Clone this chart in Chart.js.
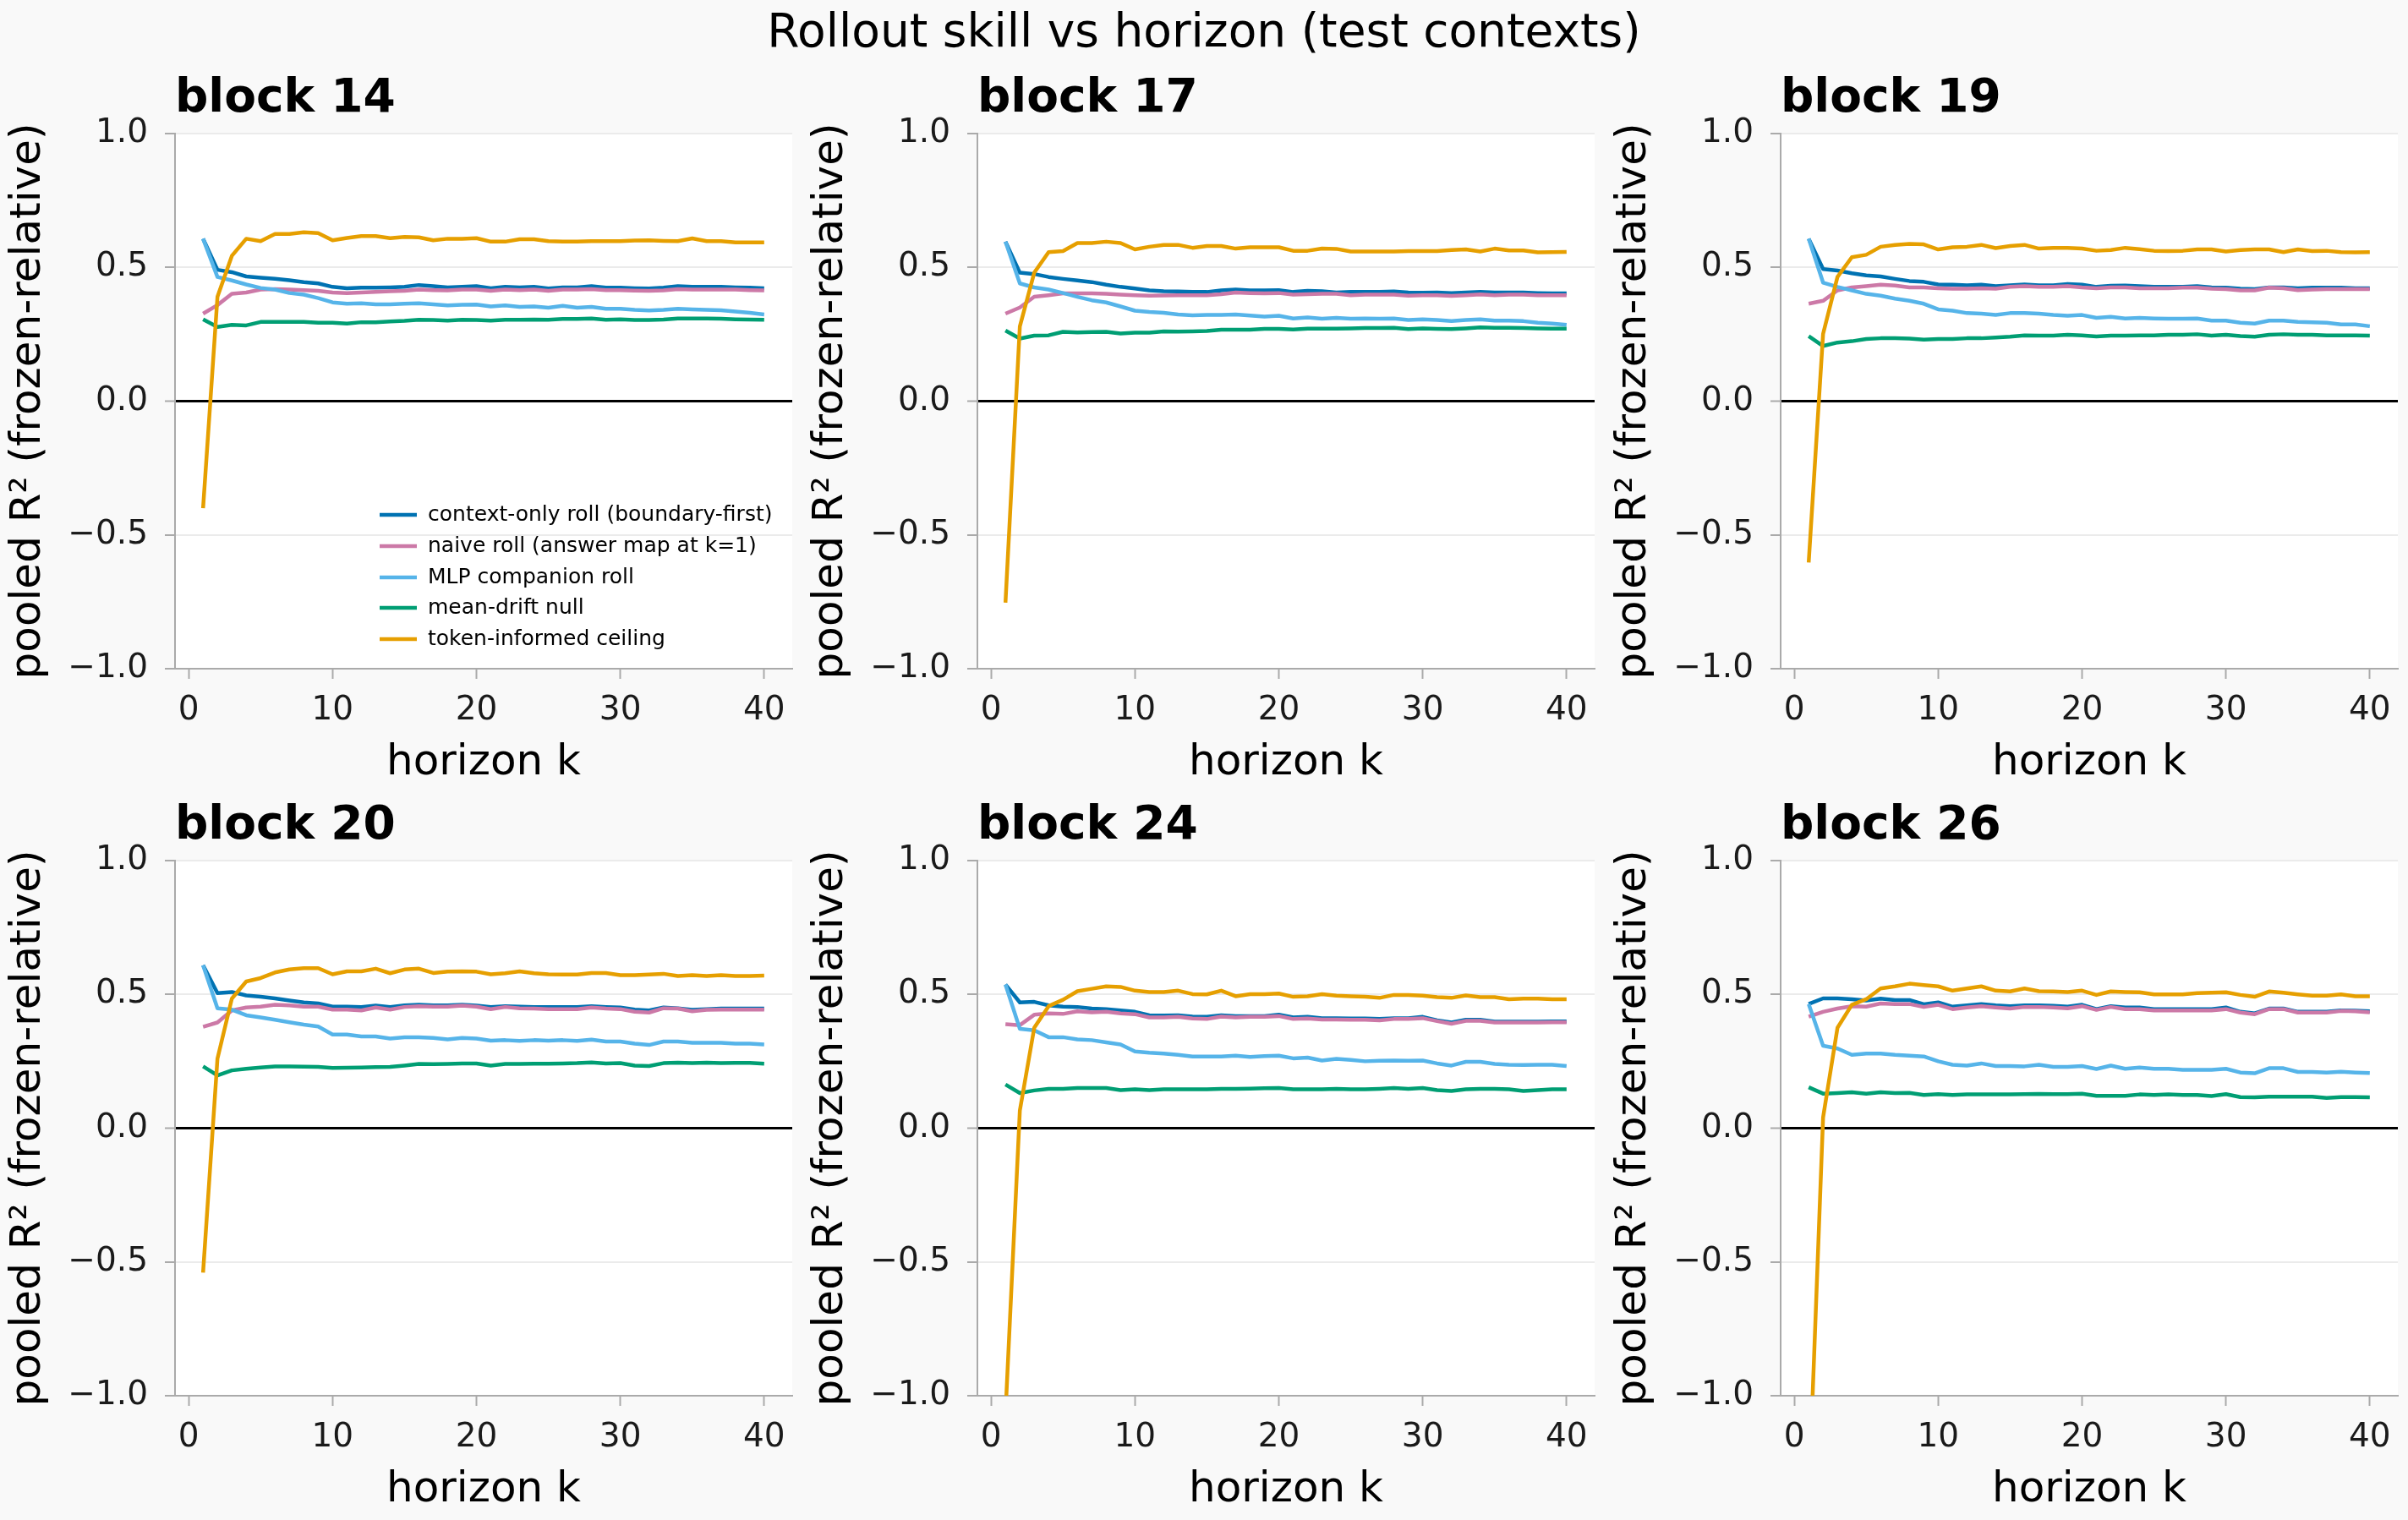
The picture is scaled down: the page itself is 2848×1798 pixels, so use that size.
<!DOCTYPE html>
<html>
<head>
<meta charset="utf-8">
<script src="https://cdn.jsdelivr.net/npm/chart.js@4.4.1/dist/chart.umd.min.js"></script>
<style>
html,body{margin:0;padding:0;background:#f9f9f9;}
#fig{position:relative;width:2848px;height:1798px;overflow:hidden;background:#f9f9f9;}
#sup{position:absolute;left:0;top:8.5px;width:2848px;text-align:center;font-family:'DejaVu Sans',sans-serif;font-size:55px;line-height:55px;color:#000;white-space:nowrap;}
canvas{position:absolute;}
</style>
</head>
<body>
<div id="fig"><div id="sup">Rollout skill vs horizon (test contexts)</div></div>
<script>
// ---------------- data ----------------
const horizonK = [1,2,3,4,5,6,7,8,9,10,11,12,13,14,15,16,17,18,19,20,21,22,23,24,25,26,27,28,29,30,31,32,33,34,35,36,37,38,39,40];
const blockTitles = ['block 14','block 17','block 19','block 20','block 24','block 26'];
const seriesNames = ['context-only roll (boundary-first)','naive roll (answer map at k=1)','MLP companion roll','mean-drift null','token-informed ceiling'];
const seriesColors = ['#0072B2','#CC79A7','#56B4E9','#009E73','#E69F00'];
const xTickValues = [0,10,20,30,40];
const yTickValues = [-1,-0.5,0,0.5,1];

const contextB14 = [0.607,0.491,0.482,0.466,0.461,0.457,0.452,0.445,0.440,0.427,0.422,0.424,0.424,0.425,0.427,0.434,0.430,0.425,0.427,0.430,0.422,0.427,0.425,0.427,0.421,0.425,0.425,0.430,0.424,0.424,0.422,0.421,0.424,0.430,0.427,0.427,0.427,0.425,0.424,0.422];
const naiveB14 = [0.327,0.359,0.401,0.406,0.417,0.419,0.417,0.415,0.412,0.406,0.404,0.406,0.408,0.411,0.412,0.417,0.415,0.414,0.417,0.417,0.412,0.417,0.415,0.417,0.412,0.417,0.417,0.419,0.415,0.415,0.413,0.412,0.414,0.419,0.417,0.417,0.417,0.417,0.415,0.414];
const mlpB14 = [0.607,0.464,0.451,0.436,0.423,0.417,0.404,0.398,0.385,0.369,0.364,0.366,0.362,0.362,0.364,0.366,0.362,0.358,0.360,0.361,0.354,0.358,0.352,0.354,0.349,0.356,0.349,0.352,0.345,0.345,0.341,0.339,0.341,0.345,0.343,0.341,0.340,0.335,0.330,0.324];
const driftB14 = [0.306,0.277,0.285,0.283,0.296,0.296,0.296,0.296,0.293,0.293,0.290,0.295,0.295,0.298,0.300,0.304,0.303,0.301,0.304,0.303,0.301,0.304,0.304,0.305,0.304,0.307,0.307,0.309,0.304,0.306,0.303,0.303,0.305,0.309,0.309,0.309,0.308,0.306,0.305,0.304];
const ceilB14 = [-0.40,0.39,0.543,0.607,0.598,0.625,0.625,0.631,0.628,0.601,0.610,0.617,0.617,0.609,0.614,0.612,0.601,0.607,0.607,0.609,0.596,0.596,0.605,0.605,0.598,0.596,0.596,0.598,0.598,0.598,0.600,0.601,0.599,0.598,0.608,0.598,0.598,0.593,0.593,0.593];

const contextB17 = [0.596,0.480,0.475,0.464,0.457,0.451,0.445,0.435,0.427,0.421,0.414,0.411,0.410,0.408,0.408,0.414,0.417,0.414,0.414,0.415,0.408,0.412,0.411,0.406,0.408,0.408,0.408,0.410,0.406,0.405,0.406,0.404,0.406,0.408,0.406,0.406,0.406,0.404,0.403,0.403];
const naiveB17 = [0.327,0.350,0.390,0.396,0.403,0.403,0.403,0.401,0.398,0.396,0.394,0.395,0.396,0.396,0.396,0.400,0.406,0.404,0.403,0.404,0.398,0.400,0.401,0.401,0.396,0.398,0.398,0.398,0.394,0.396,0.396,0.393,0.396,0.399,0.396,0.398,0.398,0.396,0.396,0.396];
const mlpB17 = [0.596,0.440,0.425,0.417,0.404,0.390,0.377,0.369,0.354,0.338,0.333,0.330,0.324,0.321,0.322,0.322,0.324,0.320,0.316,0.319,0.309,0.313,0.308,0.311,0.308,0.309,0.308,0.309,0.303,0.306,0.303,0.299,0.303,0.306,0.301,0.301,0.299,0.293,0.290,0.285];
const driftB17 = [0.264,0.234,0.245,0.246,0.259,0.257,0.258,0.259,0.253,0.256,0.256,0.261,0.260,0.261,0.262,0.267,0.267,0.267,0.270,0.270,0.268,0.271,0.271,0.271,0.272,0.273,0.273,0.274,0.269,0.272,0.270,0.269,0.272,0.276,0.274,0.274,0.273,0.272,0.271,0.271];
const ceilB17 = [-0.753,0.279,0.480,0.557,0.561,0.591,0.591,0.596,0.591,0.567,0.577,0.584,0.584,0.573,0.580,0.580,0.570,0.575,0.575,0.575,0.562,0.562,0.570,0.569,0.559,0.559,0.559,0.559,0.561,0.561,0.561,0.565,0.567,0.559,0.570,0.563,0.563,0.556,0.557,0.558];

const contextB19 = [0.607,0.494,0.488,0.478,0.470,0.466,0.457,0.449,0.446,0.436,0.435,0.433,0.435,0.430,0.433,0.436,0.433,0.433,0.438,0.435,0.427,0.431,0.432,0.430,0.427,0.427,0.427,0.430,0.425,0.424,0.420,0.419,0.425,0.425,0.422,0.424,0.424,0.424,0.422,0.422];
const naiveB19 = [0.364,0.375,0.414,0.425,0.430,0.435,0.432,0.425,0.425,0.422,0.420,0.420,0.422,0.420,0.427,0.430,0.427,0.427,0.430,0.425,0.422,0.425,0.425,0.422,0.422,0.422,0.424,0.424,0.420,0.419,0.414,0.414,0.424,0.422,0.415,0.417,0.419,0.419,0.419,0.419];
const mlpB19 = [0.607,0.443,0.427,0.414,0.401,0.394,0.383,0.375,0.364,0.343,0.338,0.329,0.327,0.322,0.329,0.329,0.327,0.322,0.319,0.322,0.311,0.315,0.309,0.311,0.309,0.308,0.308,0.309,0.301,0.301,0.293,0.290,0.301,0.301,0.296,0.295,0.293,0.287,0.287,0.280];
const driftB19 = [0.243,0.206,0.219,0.224,0.232,0.235,0.235,0.234,0.230,0.232,0.232,0.235,0.235,0.238,0.241,0.246,0.245,0.245,0.248,0.246,0.242,0.245,0.245,0.246,0.246,0.248,0.248,0.250,0.245,0.248,0.243,0.241,0.248,0.250,0.248,0.248,0.246,0.246,0.246,0.245];
const ceilB19 = [-0.603,0.251,0.464,0.538,0.547,0.577,0.584,0.588,0.586,0.567,0.575,0.577,0.584,0.572,0.580,0.584,0.570,0.573,0.573,0.570,0.562,0.565,0.573,0.568,0.562,0.561,0.562,0.567,0.567,0.559,0.565,0.567,0.567,0.557,0.567,0.561,0.562,0.557,0.556,0.557];

const contextB20 = [0.609,0.505,0.509,0.496,0.491,0.485,0.477,0.470,0.466,0.454,0.454,0.453,0.458,0.453,0.459,0.461,0.459,0.459,0.461,0.458,0.453,0.456,0.454,0.453,0.453,0.453,0.453,0.456,0.453,0.451,0.443,0.440,0.451,0.448,0.442,0.445,0.447,0.447,0.447,0.447];
const naiveB20 = [0.379,0.395,0.440,0.451,0.454,0.461,0.459,0.454,0.454,0.443,0.443,0.440,0.451,0.443,0.453,0.456,0.454,0.454,0.458,0.454,0.445,0.453,0.448,0.447,0.445,0.445,0.445,0.451,0.447,0.445,0.435,0.432,0.448,0.447,0.437,0.442,0.443,0.443,0.443,0.443];
const mlpB20 = [0.609,0.448,0.443,0.422,0.414,0.405,0.396,0.387,0.380,0.350,0.350,0.343,0.343,0.335,0.340,0.340,0.337,0.332,0.337,0.335,0.327,0.329,0.326,0.329,0.327,0.329,0.326,0.331,0.324,0.324,0.316,0.311,0.324,0.324,0.319,0.319,0.319,0.316,0.316,0.313];
const driftB20 = [0.231,0.197,0.216,0.222,0.227,0.231,0.231,0.230,0.229,0.225,0.226,0.227,0.228,0.229,0.234,0.240,0.239,0.240,0.242,0.242,0.234,0.240,0.240,0.241,0.241,0.242,0.243,0.246,0.242,0.243,0.234,0.232,0.243,0.245,0.243,0.245,0.243,0.244,0.244,0.241];
const ceilB20 = [-0.54,0.26,0.484,0.548,0.561,0.582,0.593,0.598,0.598,0.575,0.586,0.586,0.596,0.579,0.593,0.596,0.580,0.585,0.586,0.585,0.575,0.579,0.586,0.579,0.575,0.574,0.574,0.580,0.580,0.572,0.572,0.574,0.577,0.569,0.572,0.569,0.572,0.569,0.569,0.570];

const contextB24 = [0.537,0.470,0.472,0.459,0.454,0.453,0.447,0.445,0.440,0.435,0.422,0.421,0.422,0.417,0.416,0.422,0.419,0.419,0.419,0.424,0.414,0.416,0.411,0.411,0.410,0.410,0.408,0.411,0.411,0.416,0.403,0.395,0.405,0.405,0.398,0.398,0.398,0.398,0.399,0.399];
const naiveB24 = [0.389,0.385,0.424,0.429,0.427,0.437,0.433,0.435,0.429,0.426,0.414,0.414,0.416,0.410,0.408,0.417,0.414,0.416,0.416,0.419,0.408,0.410,0.406,0.406,0.405,0.405,0.403,0.408,0.408,0.411,0.400,0.390,0.401,0.401,0.395,0.395,0.395,0.395,0.396,0.396];
const mlpB24 = [0.537,0.371,0.366,0.340,0.340,0.332,0.329,0.321,0.313,0.287,0.282,0.279,0.274,0.268,0.268,0.268,0.271,0.266,0.269,0.271,0.261,0.264,0.253,0.259,0.255,0.250,0.252,0.253,0.252,0.253,0.242,0.234,0.248,0.248,0.240,0.237,0.236,0.237,0.237,0.232];
const driftB24 = [0.163,0.131,0.141,0.147,0.147,0.150,0.150,0.150,0.142,0.145,0.142,0.145,0.145,0.145,0.145,0.147,0.147,0.148,0.149,0.150,0.145,0.145,0.145,0.147,0.145,0.145,0.147,0.150,0.147,0.150,0.142,0.139,0.145,0.147,0.147,0.145,0.139,0.142,0.145,0.145];
const ceilB24 = [-1.07,0.066,0.375,0.456,0.480,0.512,0.521,0.530,0.528,0.514,0.509,0.509,0.514,0.501,0.500,0.514,0.493,0.501,0.501,0.503,0.491,0.493,0.501,0.495,0.493,0.491,0.487,0.498,0.498,0.495,0.490,0.487,0.496,0.490,0.490,0.482,0.484,0.484,0.482,0.482];

const contextB26 = [0.464,0.485,0.485,0.482,0.477,0.484,0.479,0.479,0.463,0.470,0.454,0.459,0.464,0.459,0.456,0.459,0.459,0.457,0.454,0.461,0.445,0.456,0.451,0.451,0.445,0.445,0.445,0.445,0.445,0.451,0.435,0.429,0.447,0.447,0.435,0.435,0.435,0.440,0.439,0.437];
const naiveB26 = [0.417,0.435,0.447,0.456,0.454,0.466,0.464,0.464,0.453,0.461,0.445,0.451,0.456,0.451,0.447,0.453,0.453,0.451,0.448,0.456,0.442,0.453,0.445,0.445,0.440,0.440,0.440,0.440,0.440,0.445,0.432,0.426,0.445,0.445,0.432,0.432,0.432,0.438,0.437,0.433];
const mlpB26 = [0.464,0.308,0.298,0.274,0.279,0.279,0.274,0.271,0.268,0.250,0.237,0.234,0.242,0.232,0.232,0.231,0.237,0.229,0.229,0.232,0.221,0.234,0.222,0.227,0.222,0.222,0.218,0.218,0.218,0.222,0.208,0.205,0.224,0.224,0.210,0.210,0.208,0.211,0.208,0.206];
const driftB26 = [0.153,0.129,0.131,0.134,0.129,0.134,0.131,0.132,0.124,0.127,0.124,0.126,0.126,0.126,0.126,0.127,0.128,0.127,0.127,0.129,0.121,0.121,0.121,0.126,0.124,0.126,0.124,0.124,0.120,0.127,0.116,0.115,0.118,0.118,0.118,0.118,0.113,0.116,0.116,0.115];
const ceilB26 = [-1.39,0.04,0.375,0.461,0.482,0.522,0.530,0.540,0.535,0.530,0.514,0.522,0.530,0.514,0.511,0.522,0.512,0.511,0.509,0.514,0.498,0.511,0.509,0.508,0.500,0.500,0.500,0.505,0.506,0.508,0.498,0.491,0.511,0.506,0.500,0.495,0.495,0.500,0.493,0.493];

const panelSeries = [
  [contextB14, naiveB14, mlpB14, driftB14, ceilB14],
  [contextB17, naiveB17, mlpB17, driftB17, ceilB17],
  [contextB19, naiveB19, mlpB19, driftB19, ceilB19],
  [contextB20, naiveB20, mlpB20, driftB20, ceilB20],
  [contextB24, naiveB24, mlpB24, driftB24, ceilB24],
  [contextB26, naiveB26, mlpB26, driftB26, ceilB26]
];

// ---------------- layout ----------------
const FONT = "'DejaVu Sans', sans-serif";
Chart.defaults.font.family = FONT;
const colLeft = [0, 949, 1899];
const rowTop = [38, 898];
const CW = 949, CH = 898;
const Y_AXIS_W = 207, X_AXIS_H = 145;

const whiteArea = {
  id: 'whiteArea',
  beforeDraw(chart) {
    const {ctx, chartArea: a} = chart;
    ctx.save();
    ctx.fillStyle = '#ffffff';
    ctx.fillRect(a.left, a.top, a.right - a.left, a.bottom - a.top);
    ctx.restore();
  }
};

const legendRowOffsets = [182, 145, 108, 72, 35];
const innerLegend = {
  id: 'innerLegend',
  afterDatasetsDraw(chart) {
    const {ctx, chartArea: a} = chart;
    ctx.save();
    ctx.font = "25px " + FONT;
    ctx.textBaseline = 'middle';
    ctx.textAlign = 'left';
    chart.data.datasets.forEach((ds, i) => {
      const y = a.bottom - legendRowOffsets[i];
      ctx.strokeStyle = ds.borderColor;
      ctx.lineWidth = 4.5;
      ctx.lineCap = 'butt';
      ctx.beginPath();
      ctx.moveTo(a.left + 242, y);
      ctx.lineTo(a.left + 286, y);
      ctx.stroke();
      ctx.fillStyle = '#000';
      ctx.fillText(ds.label, a.left + 299, y);
    });
    ctx.restore();
  }
};

const fig = document.getElementById('fig');
panelSeries.forEach((series, p) => {
  const c = p % 3, r = Math.floor(p / 3);
  const cv = document.createElement('canvas');
  cv.width = CW; cv.height = CH;
  cv.style.width = CW + 'px'; cv.style.height = CH + 'px';
  cv.style.left = colLeft[c] + 'px'; cv.style.top = rowTop[r] + 'px';
  fig.appendChild(cv);

  const datasets = seriesNames.map((name, si) => ({
    label: name,
    data: horizonK.map((k, i) => ({x: k, y: series[si][i]})),
    borderColor: seriesColors[si],
    backgroundColor: seriesColors[si],
    borderWidth: 4.5,
    pointRadius: 0,
    pointHoverRadius: 0,
    tension: 0,
    fill: false,
    clip: 0,
    borderJoinStyle: 'round',
    borderCapStyle: 'butt',
    order: 4 - si
  }));

  new Chart(cv, {
    type: 'line',
    data: {datasets},
    options: {
      responsive: false,
      animation: false,
      devicePixelRatio: 1,
      events: [],
      layout: {padding: {left: 0, top: 0, right: 12, bottom: 0}},
      plugins: {
        legend: {display: false},
        tooltip: {enabled: false},
        title: {
          display: true, text: blockTitles[p], align: 'start', fullSize: false,
          color: '#000', font: {family: FONT, size: 55, weight: 'bold', lineHeight: 1.2},
          padding: {top: 47, bottom: 7}
        }
      },
      scales: {
        x: {
          type: 'linear', min: -0.95, max: 41.95,
          afterBuildTicks: (a) => { a.ticks = xTickValues.map(v => ({value: v})); },
          afterFit: (s) => { s.height = X_AXIS_H; },
          grid: {display: true, drawOnChartArea: false, drawTicks: true, tickLength: 12, tickColor: '#aaaaaa', tickWidth: 2},
          border: {display: true, color: '#aaaaaa', width: 2},
          ticks: {font: {size: 39}, color: '#1a1a1a', padding: 14, maxRotation: 0, autoSkip: false, callback: (v) => String(v)},
          title: {display: true, text: 'horizon k', font: {size: 50}, color: '#000', padding: {top: 0, bottom: 3}}
        },
        y: {
          type: 'linear', min: -1, max: 1,
          afterBuildTicks: (a) => { a.ticks = yTickValues.map(v => ({value: v})); },
          afterFit: (s) => { s.width = Y_AXIS_W; },
          grid: {
            color: (ctx) => (ctx.tick && ctx.tick.value === 0) ? '#000000' : '#ebebeb',
            lineWidth: (ctx) => (ctx.tick && ctx.tick.value === 0) ? 3 : 2,
            drawTicks: true, tickLength: 12, tickColor: '#aaaaaa', tickWidth: 2
          },
          border: {display: true, color: '#aaaaaa', width: 2},
          ticks: {font: {size: 39}, color: '#1a1a1a', padding: 20, autoSkip: false,
                  callback: (v) => (v < 0 ? '\u2212' : '') + Math.abs(v).toFixed(1)},
          title: {display: true, text: 'pooled R\u00b2 (frozen-relative)', font: {size: 50}, color: '#000', padding: {top: 4, bottom: 0}}
        }
      }
    },
    plugins: p === 0 ? [whiteArea, innerLegend] : [whiteArea]
  });
});
</script>
</body>
</html>
